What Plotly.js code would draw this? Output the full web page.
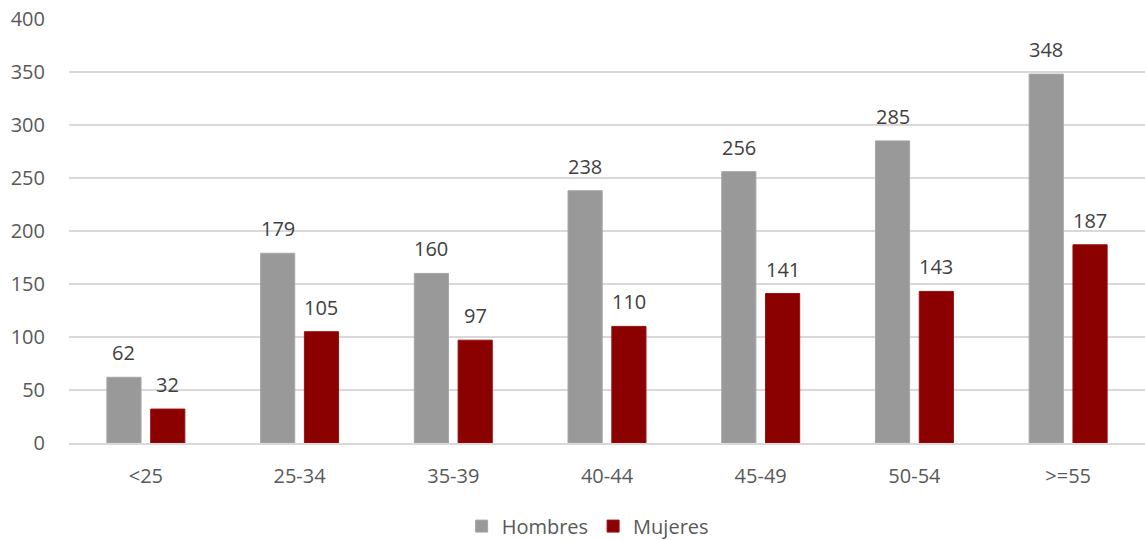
<!DOCTYPE html>
<html>
<head>
<meta charset="utf-8">
<script src="https://cdn.plot.ly/plotly-3.0.1.min.js"></script>
<style>html,body{margin:0;padding:0;background:#fff;}#chart{width:1145px;height:540px;}</style>
</head>
<body>
<div id="chart"></div>
<script>
const categories = ["<25", "25-34", "35-39", "40-44", "45-49", "50-54", ">=55"];
const hombres = [62, 179, 160, 238, 256, 285, 348];
const mujeres = [32, 105, 97, 110, 141, 143, 187];

const font = "'Open Sans', sans-serif";
const traces = [
  {type: "bar", name: "Hombres", x: categories, y: hombres,
   marker: {color: "#999999", line: {color: "#a6a6a6", width: 1}}},
  {type: "bar", name: "Mujeres", x: categories, y: mujeres,
   marker: {color: "#8b0000", line: {color: "#9a1010", width: 1}}}
];
const slotShift = 21.9;
const annotations = [];
categories.forEach((c, i) => {
  annotations.push({x: c, y: hombres[i], text: String(hombres[i]), xref: "x", yref: "y",
    showarrow: false, yanchor: "bottom", xshift: -slotShift, yshift: 9,
    font: {family: font, size: 20, color: "#404040"}});
  annotations.push({x: c, y: mujeres[i], text: String(mujeres[i]), xref: "x", yref: "y",
    showarrow: false, yanchor: "bottom", xshift: slotShift, yshift: 9,
    font: {family: font, size: 20, color: "#404040"}});
});
const layout = {
  width: 1145, height: 540,
  margin: {l: 69, r: 0, t: 19, b: 97, autoexpand: false},
  paper_bgcolor: "#fff", plot_bgcolor: "#fff",
  barmode: "group", bargap: 0.43, bargroupgap: 0.22,
  font: {family: font, size: 20, color: "#595959"},
  annotations: annotations,
  xaxis: {type: "category", showgrid: false, showline: true, linecolor: "#d9d9d9", linewidth: 2,
          ticks: "outside", ticklen: 14, tickcolor: "rgba(0,0,0,0)", automargin: false,
          tickfont: {family: font, size: 20, color: "#595959"}},
  yaxis: {range: [0, 400], dtick: 50, showgrid: true, gridcolor: "#d9d9d9", gridwidth: 2,
          zeroline: false, showline: false, ticks: "outside", ticklen: 19, tickcolor: "rgba(0,0,0,0)",
          automargin: false, tickfont: {family: font, size: 20, color: "#595959"}},
  showlegend: true,
  legend: {orientation: "h", x: 0.482, xanchor: "center", y: -0.196, yanchor: "middle",
           font: {family: font, size: 20, color: "#595959"}, itemwidth: 30, traceorder: "normal"}
};
Plotly.newPlot("chart", traces, layout, {displayModeBar: false, staticPlot: true});
</script>
</body>
</html>
